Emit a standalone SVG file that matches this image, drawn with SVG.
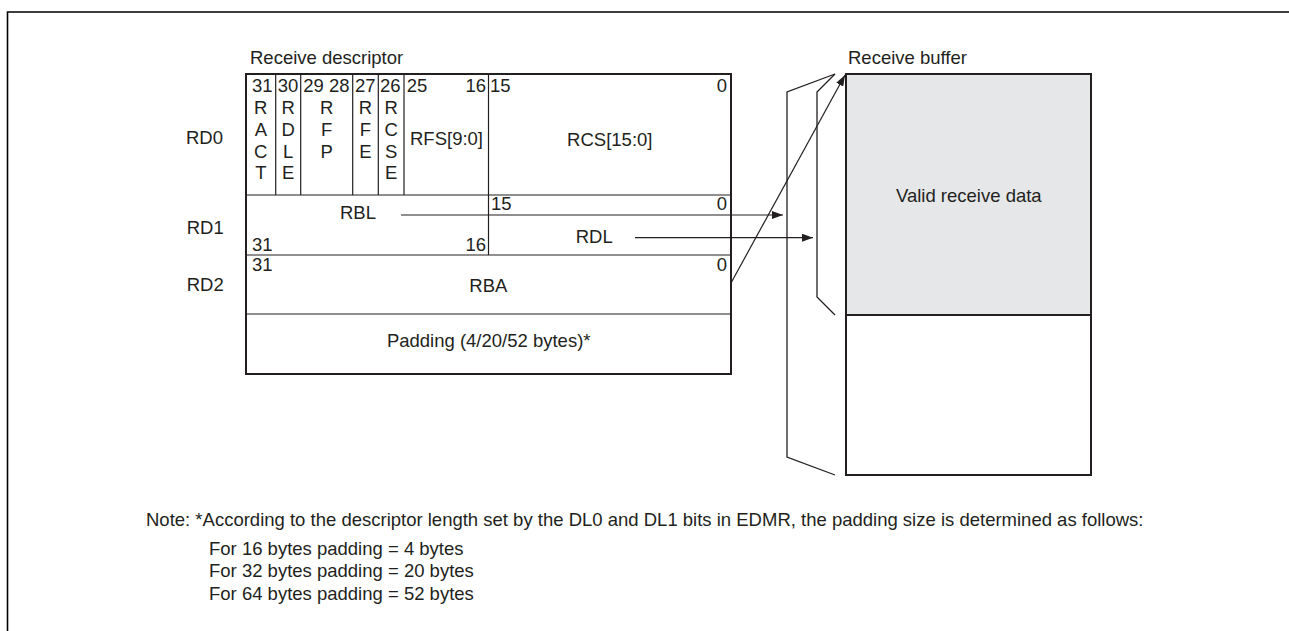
<svg xmlns="http://www.w3.org/2000/svg" width="1289" height="631" viewBox="0 0 1289 631">
<style>
text{font-family:"Liberation Sans",Arial,sans-serif;font-size:18.5px;fill:#231f20}
.m{text-anchor:middle}
.e{text-anchor:end}
.box{fill:none;stroke:#231f20;stroke-width:2}
.ln{fill:none;stroke:#231f20;stroke-width:1.2}
.br{fill:none;stroke:#231f20;stroke-width:1.3}
</style>
<defs>
<marker id="ah" markerUnits="userSpaceOnUse" markerWidth="12" markerHeight="8" refX="11" refY="4" orient="auto">
<path d="M0,0 L11,4 L0,8 Z" fill="#231f20"/>
</marker>
</defs>
<rect width="1289" height="631" fill="#fff"/>
<polyline points="7.5,631 7.5,12 1289,12" fill="none" stroke="#000" stroke-width="1.6"/>

<g id="descriptor">
<text x="250" y="64">Receive descriptor</text>
<text x="186" y="144">RD0</text>
<text x="186.7" y="234">RD1</text>
<text x="186.7" y="290.7">RD2</text>
<rect x="246" y="74" width="485" height="300" fill="#fff"/>
<g class="ln">
<line x1="275.7" y1="74" x2="275.7" y2="195"/>
<line x1="300.7" y1="74" x2="300.7" y2="195"/>
<line x1="352.7" y1="74" x2="352.7" y2="195"/>
<line x1="378.3" y1="74" x2="378.3" y2="195"/>
<line x1="404" y1="74" x2="404" y2="195"/>
<line x1="488.5" y1="74" x2="488.5" y2="255"/>
<line x1="246" y1="195" x2="731" y2="195"/>
<line x1="246" y1="255" x2="731" y2="255"/>
<line x1="246" y1="314" x2="731" y2="314"/>
</g>
<rect class="box" x="246" y="74" width="485" height="300"/>
<text x="252" y="92">31</text>
<text x="277.7" y="92">30</text>
<text x="303.3" y="92">29 28</text>
<text x="355" y="92">27</text>
<text x="380" y="92">26</text>
<text x="406.7" y="92">25</text>
<text class="e" x="486" y="92">16</text>
<text x="490" y="92">15</text>
<text class="e" x="727" y="92">0</text>
<g class="m">
<text x="260.8" y="114.3">R</text><text x="260.8" y="136">A</text><text x="260.8" y="157.7">C</text><text x="260.8" y="179.3">T</text>
<text x="288.2" y="114.3">R</text><text x="288.2" y="136">D</text><text x="288.2" y="157.7">L</text><text x="288.2" y="179.3">E</text>
<text x="326.7" y="114.3">R</text><text x="326.7" y="136">F</text><text x="326.7" y="157.7">P</text>
<text x="365.5" y="114.3">R</text><text x="365.5" y="136">F</text><text x="365.5" y="157.7">E</text>
<text x="391.2" y="114.3">R</text><text x="391.2" y="136">C</text><text x="391.2" y="157.7">S</text><text x="391.2" y="179.3">E</text>
<text x="446.5" y="145">RFS[9:0]</text>
<text x="609.8" y="146">RCS[15:0]</text>
<text x="488.3" y="291.7">RBA</text>
<text x="488.7" y="346.7">Padding (4/20/52 bytes)*</text>
</g>
<text x="340" y="219">RBL</text>
<text x="491" y="210">15</text>
<text class="e" x="727" y="210">0</text>
<text x="252" y="251">31</text>
<text class="e" x="486" y="251">16</text>
<text x="575.7" y="243">RDL</text>
<text x="252" y="271">31</text>
<text class="e" x="727" y="271">0</text>
</g>

<g id="buffer">
<text x="848" y="64">Receive buffer</text>
<rect x="846" y="74" width="245" height="241" fill="#e6e7e8"/>
<line x1="846" y1="315" x2="1091" y2="315" stroke="#231f20" stroke-width="2"/>
<rect class="box" x="846" y="74" width="245" height="401"/>
<text class="m" x="968.8" y="201.7">Valid receive data</text>
</g>

<g id="connectors">
<line class="ln" x1="401" y1="215" x2="783" y2="215" marker-end="url(#ah)"/>
<line class="ln" x1="635" y1="237.7" x2="813" y2="237.7" marker-end="url(#ah)"/>
<line class="ln" x1="731" y1="283" x2="845" y2="75" marker-end="url(#ah)"/>
<polyline class="br" points="835,74 787,92 787,457 835,475"/>
<polyline class="br" points="835,74 817,92 817,297 835,315"/>
</g>

<g id="note">
<text x="146" y="526">Note: *According to the descriptor length set by the DL0 and DL1 bits in EDMR, the padding size is determined as follows:</text>
<text x="209" y="555">For 16 bytes padding = 4 bytes</text>
<text x="209" y="577.3">For 32 bytes padding = 20 bytes</text>
<text x="209" y="600">For 64 bytes padding = 52 bytes</text>
</g>
</svg>
